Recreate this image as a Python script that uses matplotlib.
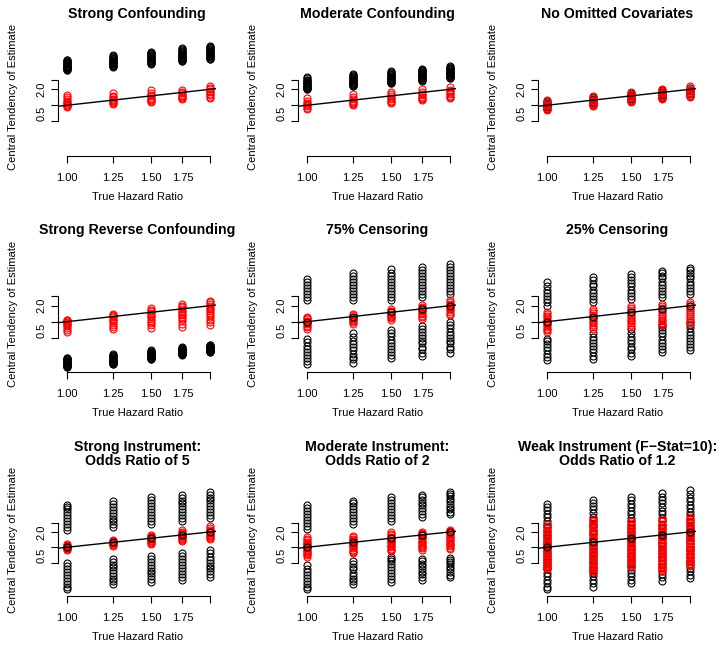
import numpy as np
import matplotlib
matplotlib.use("Agg")
import matplotlib.pyplot as plt
from matplotlib.ticker import FixedLocator, NullLocator

plt.rcParams["font.family"] = ["Liberation Sans", "DejaVu Sans"]

# ── data ──────────────────────────────────────────────────────────────────────
TRUE_HR = [1.00, 1.25, 1.50, 1.75, 2.00]
X_TICK_LABELS = ["1.00", "1.25", "1.50", "1.75", ""]
Y_TICKS = [0.5, 1.0, 2.0, 3.0]
Y_TICK_LABELS = ["", "", "2.0", ""]
LOW_LABEL = "0.5"       # drawn a little above its tick, as in the original
X_LABEL = "True Hazard Ratio"
Y_LABEL = "Central Tendency of Estimate"

TITLES = [
    "Strong Confounding", "Moderate Confounding", "No Omitted Covariates",
    "Strong Reverse Confounding", "75% Censoring", "25% Censoring",
    "Strong Instrument:\nOdds Ratio of 5", "Moderate Instrument:\nOdds Ratio of 2",
    "Weak Instrument (F\u2212Stat=10):\nOdds Ratio of 1.2",
]
# panels where a black estimate sits on the truth line, above the red ones
BLACK_ON_LINE = [False, False, False, False, True, True, True, True, True]

# one inner list per true hazard ratio (1.00 ... 2.00)
strong_conf_black = [
    [4.6, 4.7, 4.8, 4.9, 5.0, 5.1, 5.2, 5.3, 5.4, 5.5, 5.6, 5.75, 5.9, 6.05, 6.2,
     6.35, 6.5, 6.65, 6.8, 7.0, 7.2],
    [5.3, 5.45, 5.6, 5.75, 5.9, 6.05, 6.2, 6.35, 6.5, 6.65, 6.8, 7.0, 7.2, 7.4, 7.6,
     7.85, 8.1, 8.4, 8.7],
    [6.0, 6.15, 6.3, 6.5, 6.7, 6.9, 7.1, 7.3, 7.5, 7.7, 7.9, 8.15, 8.4, 8.65, 8.9,
     9.2, 9.5, 9.8, 10.1],
    [6.7, 6.9, 7.1, 7.3, 7.5, 7.75, 8.0, 8.25, 8.5, 8.75, 9.0, 9.3, 9.6, 9.9, 10.2,
     10.6, 11.0, 11.4, 11.8],
    [7.3, 7.55, 7.8, 8.05, 8.3, 8.55, 8.8, 9.1, 9.4, 9.7, 10.0, 10.35, 10.7, 11.1,
     11.5, 11.9, 12.3, 12.75, 13.2],
]
strong_conf_red = [
    [0.91, 0.95, 1.0, 1.04, 1.1, 1.16, 1.22, 1.3, 1.42, 1.58],
    [1.05, 1.1, 1.15, 1.2, 1.27, 1.33, 1.42, 1.52, 1.7],
    [1.15, 1.2, 1.26, 1.32, 1.4, 1.47, 1.55, 1.68, 1.96],
    [1.3, 1.36, 1.42, 1.5, 1.58, 1.68, 1.8, 1.96],
    [1.38, 1.46, 1.55, 1.65, 1.75, 1.86, 2.0, 2.15, 2.33],
]
moderate_conf_black = [
    [2.0, 2.05, 2.1, 2.15, 2.2, 2.25, 2.3, 2.35, 2.4, 2.47, 2.55, 2.62, 2.7, 2.78,
     2.85, 2.95, 3.05, 3.2, 3.4],
    [2.3, 2.35, 2.4, 2.45, 2.5, 2.57, 2.65, 2.72, 2.8, 2.87, 2.95, 3.02, 3.1, 3.2,
     3.3, 3.42, 3.55, 3.7, 3.9],
    [2.6, 2.67, 2.75, 2.82, 2.9, 2.97, 3.05, 3.12, 3.2, 3.27, 3.35, 3.45, 3.55, 3.67,
     3.8, 3.95, 4.1, 4.25, 4.4],
    [2.9, 2.97, 3.05, 3.12, 3.2, 3.3, 3.4, 3.5, 3.6, 3.7, 3.8, 3.9, 4.0, 4.12, 4.25,
     4.4, 4.55, 4.7, 4.9],
    [3.2, 3.3, 3.4, 3.5, 3.6, 3.7, 3.8, 3.9, 4.0, 4.1, 4.2, 4.32, 4.45, 4.6, 4.75,
     4.92, 5.1, 5.3, 5.5],
]
moderate_conf_red = [
    [0.85, 0.9, 0.95, 1.0, 1.06, 1.12, 1.2, 1.35],
    [1.0, 1.05, 1.1, 1.16, 1.23, 1.3, 1.42, 1.6],
    [1.1, 1.16, 1.22, 1.3, 1.38, 1.48, 1.6, 1.8],
    [1.25, 1.3, 1.37, 1.45, 1.54, 1.64, 1.78, 2.0],
    [1.35, 1.42, 1.5, 1.6, 1.7, 1.82, 1.98, 2.2],
]
no_omitted_black = [
    [0.86, 0.92, 0.98, 1.04, 1.1, 1.18],
    [1.02, 1.1, 1.17, 1.24, 1.32, 1.42],
    [1.22, 1.3, 1.38, 1.47, 1.57, 1.7],
    [1.38, 1.46, 1.55, 1.65, 1.76, 1.9],
    [1.52, 1.62, 1.72, 1.84, 1.98, 2.15],
]
no_omitted_red = [
    [0.8, 0.85, 0.9, 0.95, 1.0, 1.06, 1.14, 1.25],
    [0.95, 1.0, 1.06, 1.12, 1.2, 1.28, 1.38, 1.5],
    [1.15, 1.2, 1.27, 1.35, 1.44, 1.54, 1.66, 1.8],
    [1.3, 1.36, 1.44, 1.52, 1.62, 1.74, 1.86, 2.0],
    [1.45, 1.52, 1.6, 1.7, 1.82, 1.95, 2.1, 2.3],
]
reverse_conf_black = [
    [0.14, 0.142, 0.145, 0.148, 0.15, 0.153, 0.156, 0.16, 0.163, 0.166, 0.17, 0.174,
     0.178, 0.182, 0.186, 0.19, 0.195, 0.2, 0.205, 0.21],
    [0.16, 0.163, 0.166, 0.17, 0.173, 0.176, 0.18, 0.184, 0.188, 0.192, 0.196, 0.2,
     0.205, 0.21, 0.216, 0.222, 0.23, 0.24, 0.25],
    [0.2, 0.203, 0.207, 0.21, 0.214, 0.218, 0.222, 0.226, 0.23, 0.235, 0.239, 0.244,
     0.248, 0.254, 0.26, 0.266, 0.273, 0.281, 0.29],
    [0.24, 0.244, 0.247, 0.251, 0.255, 0.259, 0.263, 0.267, 0.272, 0.276, 0.281,
     0.285, 0.29, 0.295, 0.3, 0.307, 0.314, 0.322, 0.33],
    [0.27, 0.274, 0.278, 0.282, 0.287, 0.291, 0.296, 0.301, 0.306, 0.311, 0.316,
     0.321, 0.327, 0.333, 0.339, 0.345, 0.352, 0.36, 0.37],
]
reverse_conf_red = [
    [0.65, 0.7, 0.76, 0.82, 0.87, 0.91, 0.95, 0.99, 1.03, 1.06, 1.1],
    [0.73, 0.8, 0.88, 0.95, 1.02, 1.08, 1.14, 1.2, 1.26, 1.32, 1.4],
    [0.76, 0.86, 0.96, 1.05, 1.14, 1.22, 1.3, 1.38, 1.47, 1.56, 1.66, 1.8],
    [0.8, 0.92, 1.02, 1.12, 1.22, 1.32, 1.42, 1.52, 1.62, 1.74, 1.88, 2.0, 2.15],
    [0.87, 0.98, 1.1, 1.22, 1.34, 1.46, 1.58, 1.7, 1.84, 1.98, 2.14, 2.3, 2.5],
]
cens75_black = [
    [0.16, 0.18, 0.205, 0.235, 0.27, 0.31, 0.355, 0.41, 0.47,
     2.55, 2.9, 3.3, 3.75, 4.3, 4.9, 5.6, 6.4],
    [0.17, 0.195, 0.22, 0.25, 0.29, 0.33, 0.38, 0.44, 0.51, 0.6,
     2.55, 2.9, 3.3, 3.8, 4.3, 4.9, 5.6, 6.4, 7.3, 8.2],
    [0.21, 0.24, 0.27, 0.31, 0.35, 0.4, 0.46, 0.53, 0.61, 0.7,
     2.55, 2.9, 3.3, 3.8, 4.3, 4.9, 5.6, 6.4, 7.3, 8.4, 9.6],
    [0.23, 0.26, 0.3, 0.34, 0.39, 0.44, 0.5, 0.57, 0.65, 0.73, 0.83,
     2.9, 3.3, 3.8, 4.3, 4.9, 5.6, 6.4, 7.3, 8.3, 9.5, 10.9],
    [0.26, 0.3, 0.34, 0.39, 0.44, 0.5, 0.57, 0.65, 0.75, 0.86, 0.98,
     3.36, 3.8, 4.3, 4.9, 5.6, 6.4, 7.3, 8.3, 9.4, 10.7, 12.2],
]
cens75_red = [
    [0.74, 0.79, 0.84, 0.89, 0.94, 1.0, 1.05, 1.11, 1.17, 1.22],
    [0.92, 0.97, 1.02, 1.07, 1.13, 1.19, 1.25, 1.32, 1.4],
    [1.09, 1.15, 1.21, 1.28, 1.35, 1.42, 1.5, 1.6, 1.72],
    [1.14, 1.22, 1.3, 1.38, 1.47, 1.56, 1.66, 1.78, 1.93, 2.1],
    [1.32, 1.42, 1.52, 1.63, 1.75, 1.88, 2.02, 2.18, 2.38, 2.6],
]
cens25_black = [
    [0.19, 0.22, 0.25, 0.29, 0.33, 0.38, 0.43, 0.48,
     2.0, 2.3, 2.65, 3.05, 3.5, 4.0, 4.7, 5.5],
    [0.2, 0.23, 0.265, 0.3, 0.35, 0.4, 0.46, 0.52, 0.6,
     2.3, 2.65, 3.05, 3.5, 4.0, 4.6, 5.2, 6.0, 6.9],
    [0.23, 0.26, 0.3, 0.34, 0.39, 0.45, 0.52, 0.6, 0.73,
     2.67, 3.05, 3.5, 4.0, 4.6, 5.3, 6.0, 6.9, 7.9],
    [0.27, 0.31, 0.35, 0.4, 0.46, 0.53, 0.61, 0.7, 0.78, 0.86,
     2.9, 3.3, 3.8, 4.35, 5.0, 5.7, 6.5, 7.4, 8.2, 9.1],
    [0.29, 0.33, 0.38, 0.43, 0.5, 0.57, 0.65, 0.75, 0.86, 0.98,
     3.36, 3.8, 4.35, 5.0, 5.7, 6.5, 7.4, 8.4, 9.3, 10.3],
]
cens25_red = [
    [0.64, 0.69, 0.74, 0.8, 0.86, 0.92, 0.98, 1.05, 1.12, 1.2, 1.28, 1.38, 1.52],
    [0.74, 0.8, 0.86, 0.93, 1.0, 1.07, 1.15, 1.24, 1.34, 1.45, 1.58, 1.72],
    [0.8, 0.87, 0.94, 1.02, 1.1, 1.19, 1.28, 1.38, 1.5, 1.63, 1.8, 1.98],
    [0.86, 0.93, 1.01, 1.1, 1.19, 1.29, 1.4, 1.52, 1.65, 1.8, 1.97, 2.15],
    [0.92, 1.0, 1.08, 1.17, 1.27, 1.38, 1.5, 1.63, 1.78, 1.94, 2.12, 2.33],
]
strong_iv_black = [
    [0.15, 0.17, 0.195, 0.22, 0.255, 0.29, 0.33, 0.38, 0.44, 0.5,
     2.14, 2.45, 2.8, 3.2, 3.7, 4.2, 4.8, 5.5, 6.1, 6.8],
    [0.19, 0.215, 0.245, 0.28, 0.32, 0.36, 0.41, 0.46, 0.52, 0.59,
     2.46, 2.8, 3.2, 3.65, 4.15, 4.75, 5.4, 6.2, 7.1, 8.2],
    [0.21, 0.24, 0.27, 0.31, 0.35, 0.4, 0.46, 0.52, 0.6, 0.68,
     2.9, 3.3, 3.75, 4.25, 4.85, 5.5, 6.3, 7.2, 8.3, 9.5],
    [0.23, 0.265, 0.3, 0.34, 0.39, 0.45, 0.52, 0.6, 0.69, 0.79,
     3.3, 3.75, 4.25, 4.85, 5.5, 6.3, 7.2, 8.2, 9.3, 10.5],
    [0.26, 0.3, 0.34, 0.39, 0.44, 0.5, 0.57, 0.66, 0.76, 0.88,
     3.8, 4.3, 4.9, 5.6, 6.4, 7.3, 8.3, 9.4, 10.7, 12.1],
]
strong_iv_red = [
    [0.9, 0.93, 0.96, 0.99, 1.02, 1.05, 1.08, 1.11, 1.14],
    [1.08, 1.12, 1.16, 1.2, 1.24, 1.28, 1.33, 1.4],
    [1.17, 1.22, 1.27, 1.33, 1.39, 1.45, 1.52, 1.6, 1.68, 1.75],
    [1.35, 1.41, 1.47, 1.54, 1.61, 1.69, 1.78, 1.88, 2.0, 2.14],
    [1.43, 1.5, 1.58, 1.66, 1.75, 1.85, 1.96, 2.08, 2.22, 2.4, 2.6],
]
moderate_iv_black = [
    [0.15, 0.17, 0.195, 0.22, 0.25, 0.285, 0.33, 0.38, 0.46,
     2.3, 2.65, 3.0, 3.45, 3.95, 4.5, 5.2, 5.9, 6.8],
    [0.19, 0.215, 0.245, 0.28, 0.32, 0.37, 0.42, 0.47, 0.53,
     2.9, 3.3, 3.75, 4.3, 4.9, 5.6, 6.4, 7.3, 8.2],
    [0.21, 0.24, 0.275, 0.315, 0.36, 0.41, 0.47, 0.54, 0.6, 0.66,
     3.3, 3.75, 4.3, 4.9, 5.6, 6.4, 7.3, 8.3, 9.5],
    [0.23, 0.26, 0.295, 0.335, 0.38, 0.43, 0.48, 0.53, 0.59,
     4.0, 4.5, 5.1, 5.8, 6.6, 7.5, 8.5, 9.6, 10.7],
    [0.26, 0.29, 0.33, 0.37, 0.42, 0.47, 0.52, 0.57, 0.62,
     4.4, 4.95, 5.55, 6.25, 7.0, 7.9, 8.9, 10.0, 11.0, 12.1],
]
moderate_iv_red = [
    [0.66, 0.7, 0.74, 0.78, 0.82, 0.86, 0.9, 0.95, 1.0, 1.05, 1.1, 1.16, 1.22, 1.29, 1.37, 1.46, 1.56],
    [0.76, 0.8, 0.85, 0.9, 0.95, 1.0, 1.05, 1.11, 1.17, 1.24, 1.31, 1.39, 1.48, 1.58, 1.68],
    [0.84, 0.89, 0.94, 1.0, 1.06, 1.12, 1.19, 1.26, 1.34, 1.42, 1.51, 1.61, 1.72, 1.83, 1.95],
    [0.9, 0.95, 1.01, 1.07, 1.13, 1.2, 1.27, 1.35, 1.43, 1.52, 1.62, 1.72, 1.83, 1.93, 2.03],
    [0.92, 0.98, 1.04, 1.1, 1.17, 1.24, 1.32, 1.4, 1.49, 1.58, 1.68, 1.79, 1.9, 2.05, 2.22],
]
weak_iv_black = [
    [0.15, 0.17, 0.2, 0.23, 0.27, 0.31, 0.37, 0.42, 0.5, 0.56, 0.68, 0.8, 0.95,
     1.1, 1.28, 1.5, 1.75, 2.1, 2.45, 2.8, 3.3, 3.9, 4.5, 5.3, 6.1, 7.1],
    [0.17, 0.2, 0.23, 0.27, 0.31, 0.36, 0.42, 0.5, 0.58, 0.7, 0.82, 0.96, 1.12,
     1.3, 1.52, 1.8, 2.1, 2.5, 2.9, 3.4, 4.0, 4.7, 5.5, 6.4, 7.4, 8.5],
    [0.2, 0.23, 0.27, 0.31, 0.36, 0.42, 0.49, 0.57, 0.67, 0.79, 0.92, 1.08, 1.26,
     1.48, 1.72, 2.0, 2.35, 2.75, 3.2, 3.8, 4.4, 5.2, 6.1, 7.1, 8.3, 9.7],
    [0.22, 0.26, 0.3, 0.35, 0.41, 0.48, 0.56, 0.65, 0.77, 0.9, 1.05, 1.23, 1.45,
     1.7, 2.0, 2.35, 2.75, 3.2, 3.8, 4.4, 5.2, 6.1, 7.2, 8.4, 9.8, 11.5],
    [0.25, 0.29, 0.34, 0.4, 0.47, 0.55, 0.64, 0.75, 0.88, 1.03, 1.2, 1.4, 1.65,
     1.92, 2.25, 2.65, 3.1, 3.6, 4.25, 5.0, 5.8, 6.8, 8.0, 9.4, 11.0, 13.0],
]
weak_iv_red = [
    [0.37, 0.39, 0.41, 0.43, 0.46, 0.48, 0.5, 0.53, 0.56, 0.59, 0.62, 0.66, 0.7, 0.74,
     0.79, 0.84, 0.89, 0.95, 1.01, 1.07, 1.14, 1.21, 1.29, 1.37, 1.46, 1.56, 1.67,
     1.79, 1.92, 2.06, 2.22, 2.4, 2.6, 2.8],
    [0.33, 0.35, 0.37, 0.39, 0.42, 0.44, 0.47, 0.5, 0.53, 0.57, 0.61, 0.65, 0.69, 0.74,
     0.79, 0.84, 0.9, 0.96, 1.03, 1.1, 1.18, 1.26, 1.35, 1.45, 1.55, 1.66, 1.78,
     1.91, 2.05, 2.2, 2.37, 2.56, 2.77, 3.0, 3.25, 3.5],
    [0.41, 0.43, 0.46, 0.48, 0.51, 0.54, 0.57, 0.61, 0.65, 0.69, 0.73, 0.78, 0.83, 0.88,
     0.94, 1.0, 1.07, 1.14, 1.22, 1.3, 1.39, 1.49, 1.6, 1.72, 1.85, 1.99, 2.15,
     2.33, 2.53, 2.76, 3.02, 3.3],
    [0.35, 0.37, 0.39, 0.42, 0.44, 0.47, 0.5, 0.53, 0.57, 0.61, 0.65, 0.69, 0.74, 0.79,
     0.85, 0.91, 0.97, 1.04, 1.11, 1.19, 1.28, 1.37, 1.47, 1.58, 1.7, 1.83, 1.97,
     2.12, 2.29, 2.48, 2.69, 2.92, 3.2, 3.6],
    [0.43, 0.45, 0.48, 0.51, 0.54, 0.57, 0.61, 0.65, 0.69, 0.73, 0.78, 0.83, 0.88, 0.94,
     1.0, 1.07, 1.14, 1.22, 1.3, 1.39, 1.49, 1.6, 1.72, 1.85, 1.99, 2.15, 2.33,
     2.53, 2.76, 3.02, 3.32, 3.65, 4.0],
]

BLACK_SERIES = [strong_conf_black, moderate_conf_black, no_omitted_black,
                reverse_conf_black, cens75_black, cens25_black,
                strong_iv_black, moderate_iv_black, weak_iv_black]
RED_SERIES = [strong_conf_red, moderate_conf_red, no_omitted_red,
              reverse_conf_red, cens75_red, cens25_red,
              strong_iv_red, moderate_iv_red, weak_iv_red]

# ── layout (pixels) ───────────────────────────────────────────────────────────
W, H, DPI = 724, 650, 100
COL_X1 = 66.7          # x pixel of HR = 1.00 in first column
COL_STEP = 240
X_PER_LN = 206.8       # pixels per unit of ln(x)
ROW_Y1 = [105.3, 321.7, 547.3]      # y pixel of estimate = 1.0
ROW_Y_PER_LN = [23.08, 23.08, 22.2]
TITLE_Y = [14, 230, 454]
XLIM = (np.exp(-0.0397), np.exp(0.722))
YLIM = (np.exp(-2.2), np.exp(2.9))

TICK_LEN, X_PAD, Y_PAD = 4.7, 7.2, 4.2
MARK = dict(marker="o", linestyle="none", mfc="none", ms=5.0, mew=0.8)


def panel_box(row, col):
    x1 = COL_X1 + COL_STEP * col
    y1 = ROW_Y1[row]
    s = ROW_Y_PER_LN[row]
    left = x1 + np.log(XLIM[0]) * X_PER_LN
    right = x1 + np.log(XLIM[1]) * X_PER_LN
    top = y1 - np.log(YLIM[1]) * s
    bottom = y1 - np.log(YLIM[0]) * s
    return left, top, right, bottom


def draw_panel(fig, row, col, title, black, red, on_line):
    left, top, right, bottom = panel_box(row, col)
    ax = fig.add_axes([left / W, 1 - bottom / H, (right - left) / W, (bottom - top) / H])
    ax.set_xscale("log")
    ax.set_yscale("log")

    for hr, vals in zip(TRUE_HR, black):
        ax.plot([hr] * len(vals), vals, color="black", zorder=2, **MARK)
    for hr, vals in zip(TRUE_HR, red):
        ax.plot([hr] * len(vals), vals, color="#FF0000", zorder=3, **MARK)
    ax.axline((1, 1), (2, 2), color="black", lw=1.0, zorder=4)
    if on_line:
        ax.plot(TRUE_HR, TRUE_HR, color="black", zorder=5, **MARK)

    ax.set_xlim(*XLIM)
    ax.set_ylim(*YLIM)
    ax.patch.set_visible(False)

    ax.xaxis.set_major_locator(FixedLocator(TRUE_HR))
    ax.xaxis.set_minor_locator(NullLocator())
    ax.set_xticklabels(X_TICK_LABELS)
    ax.yaxis.set_major_locator(FixedLocator(Y_TICKS))
    ax.yaxis.set_minor_locator(NullLocator())
    ax.set_yticklabels(Y_TICK_LABELS, rotation=90, va="center")
    ax.annotate(LOW_LABEL, xy=(0, Y_TICKS[0]), xycoords=("axes fraction", "data"),
                xytext=(-(TICK_LEN + Y_PAD), 5.6), textcoords="offset points",
                rotation=90, ha="right", va="center", fontsize=8)

    for side in ("top", "right"):
        ax.spines[side].set_visible(False)
    ax.spines["left"].set_bounds(Y_TICKS[0], Y_TICKS[-1])
    ax.spines["bottom"].set_bounds(TRUE_HR[0], TRUE_HR[-1])
    for side in ("left", "bottom"):
        ax.spines[side].set_linewidth(0.8)
    ax.tick_params(axis="both", direction="out", length=TICK_LEN, width=0.8,
                   labelsize=8, colors="black")
    ax.tick_params(axis="x", pad=X_PAD)
    ax.tick_params(axis="y", pad=Y_PAD)

    cx = (left + right) / 2
    fig.text(cx / W, 1 - TITLE_Y[row] / H, title, ha="center", va="center",
             fontsize=10.2, fontweight="bold", linespacing=1.05)
    fig.text(cx / W, 1 - (bottom + 41) / H, X_LABEL, ha="center", va="center", fontsize=8)
    fig.text((13.3 + COL_STEP * col) / W, 1 - (top + bottom) / 2 / H, Y_LABEL,
             ha="center", va="center", rotation=90, fontsize=8)


def main():
    fig = plt.figure(figsize=(W / DPI, H / DPI), dpi=DPI)
    fig.patch.set_facecolor("white")
    for i, title in enumerate(TITLES):
        draw_panel(fig, i // 3, i % 3, title, BLACK_SERIES[i], RED_SERIES[i], BLACK_ON_LINE[i])
    fig.savefig("out.png", dpi=DPI)
    plt.close(fig)


if __name__ == "__main__":
    main()
